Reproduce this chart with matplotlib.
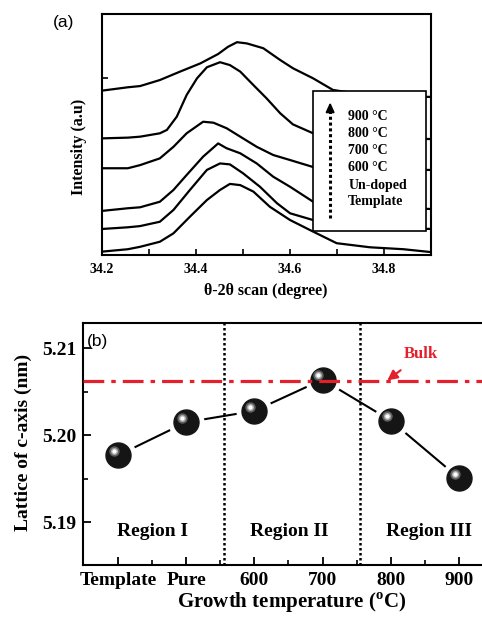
import matplotlib
matplotlib.use("Agg")
import matplotlib.pyplot as plt
import matplotlib.transforms as mtransforms
from matplotlib.patches import Rectangle

plt.rcParams["font.family"] = ["Liberation Serif", "DejaVu Serif"]
plt.rcParams["font.weight"] = "bold"
plt.rcParams["mathtext.fontset"] = "custom"
plt.rcParams["mathtext.rm"] = "Liberation Serif:bold"

# ---- panel (a): theta-2theta scans, stacked (intensity in a.u.) ----
SCAN_LABELS = ["900 °C", "800 °C", "700 °C", "600 °C", "Un-doped", "Template"]

X_900 = [34.200, 34.255, 34.281, 34.323, 34.366, 34.409, 34.447, 34.468, 34.487,
         34.508, 34.543, 34.579, 34.606, 34.649, 34.691, 34.740, 34.791, 34.900]
Y_900 = [68.2, 69.6, 70.1, 72.6, 76.1, 79.5, 83.4, 86.4, 88.3,
         87.8, 85.8, 80.9, 77.5, 73.3, 68.5, 67.0, 66.0, 65.6]

X_800 = [34.200, 34.255, 34.281, 34.323, 34.338, 34.359, 34.380, 34.402, 34.423, 34.451,
         34.472, 34.494, 34.522, 34.550, 34.579, 34.606, 34.649, 34.700, 34.749, 34.900]
Y_800 = [48.4, 48.7, 49.1, 50.5, 51.9, 57.4, 66.4, 73.3, 77.9, 80.0,
         78.8, 76.1, 70.5, 65.0, 58.8, 54.2, 50.5, 49.5, 49.0, 48.1]

X_700 = [34.200, 34.255, 34.281, 34.323, 34.352, 34.380, 34.415, 34.437,
         34.465, 34.494, 34.529, 34.564, 34.600, 34.649, 34.700, 34.900]
Y_700 = [36.0, 36.0, 37.3, 40.1, 44.9, 50.5, 55.3, 54.9,
         52.6, 49.1, 44.9, 41.5, 39.4, 36.5, 35.5, 35.3]

X_600 = [34.200, 34.255, 34.281, 34.323, 34.352, 34.380, 34.415, 34.447,
         34.465, 34.494, 34.529, 34.564, 34.600, 34.649, 34.700, 34.900]
Y_600 = [18.3, 19.4, 19.8, 22.1, 27.0, 33.2, 40.8, 46.3,
         44.3, 42.2, 38.0, 32.5, 28.3, 22.1, 20.0, 19.1]

X_UNDOPED = [34.200, 34.255, 34.281, 34.323, 34.352, 34.387, 34.423, 34.451,
             34.472, 34.500, 34.536, 34.572, 34.600, 34.649, 34.700, 34.900]
Y_UNDOPED = [10.8, 11.5, 12.0, 13.8, 18.7, 27.0, 35.3, 38.0,
             37.6, 33.9, 28.3, 21.5, 17.3, 14.5, 12.0, 10.8]

X_TEMPLATE = [34.200, 34.255, 34.281, 34.323, 34.352, 34.387, 34.423, 34.451, 34.472,
              34.494, 34.522, 34.557, 34.600, 34.649, 34.699, 34.770, 34.841, 34.900]
Y_TEMPLATE = [1.4, 2.4, 3.4, 5.5, 9.0, 15.9, 22.8, 27.0, 29.5,
              29.0, 26.3, 20.0, 14.5, 9.7, 4.9, 3.2, 2.4, 1.2]

SCANS = [(X_900, Y_900), (X_800, Y_800), (X_700, Y_700), (X_600, Y_600),
         (X_UNDOPED, Y_UNDOPED), (X_TEMPLATE, Y_TEMPLATE)]

# ---- panel (b): c-axis lattice constant ----
TEMP_POS = [400, 500, 600, 700, 800, 900]
TEMP_LABELS = ["Template", "Pure", "600", "700", "800", "900"]
LATTICE_C = [5.1977, 5.2015, 5.2028, 5.2064, 5.2017, 5.1951]
BULK_C = 5.2062
REGION_BOUNDS = [555, 755]
REGION_LABELS = ["Region I", "Region II", "Region III"]

RED = "#e3202b"

fig = plt.figure(figsize=(4.82, 6.2), dpi=100)

# ---------------- panel (a) ----------------
ax = fig.add_axes([0.2116, 0.5887, 0.683, 0.3887])
for xs, ys in SCANS:
    ax.plot(xs, ys, color="black", lw=1.6, solid_joinstyle="round", zorder=2)

ax.set_xlim(34.2, 34.9)
ax.set_ylim(0, 100)
ax.set_xticks([34.2, 34.4, 34.6, 34.8])
ax.set_xticks([34.3, 34.5, 34.7], minor=True)
ax.set_xticklabels(["34.2", "34.4", "34.6", "34.8"])
ax.set_yticks([73.4])
ax.set_yticklabels([])
ax.tick_params(axis="both", which="both", direction="in", length=4, width=1.2,
               labelsize=10, pad=6)
for sp in ax.spines.values():
    sp.set_linewidth(1.5)

ax.set_xlabel("θ-2θ scan (degree)", fontsize=11.5, fontweight="bold")
ax.xaxis.set_label_coords(0.498, -0.115)
ax.set_ylabel("Intensity (a.u)", fontsize=11.5, fontweight="bold")
ax.yaxis.set_label_coords(-0.045, 0.45)

# inner key box with dotted arrow
ax.add_patch(Rectangle((0.641, 0.0996), 0.344, 0.580, transform=ax.transAxes,
                       facecolor="white", edgecolor="black", lw=1.2, zorder=3))
ax.plot([0.693, 0.693], [0.154, 0.60], transform=ax.transAxes, color="black",
        lw=2.2, ls=(0, (1, 0.9)), zorder=4)
ax.annotate("", xy=(0.693, 0.645), xytext=(0.693, 0.595), xycoords="axes fraction",
            arrowprops=dict(arrowstyle="-|>,head_length=0.55,head_width=0.25",
                            color="black", lw=1.4), zorder=5)
key_y = [0.573, 0.506, 0.432, 0.365, 0.290, 0.220]
for label, yk in zip(SCAN_LABELS, key_y):
    ax.text(0.748, yk, label, transform=ax.transAxes, fontsize=10,
            fontweight="bold", va="center", ha="left", zorder=5)

fig.text(0.131, 0.9645, "(a)", fontsize=12.5, fontweight="normal",
         family="Liberation Sans", ha="center", va="center")

# ---------------- panel (b) ----------------
bx = fig.add_axes([0.1722, 0.0887, 1 - 0.1722, 0.3903])
bx.plot(TEMP_POS, LATTICE_C, color="black", lw=1.5, zorder=2)
bx.plot(TEMP_POS, LATTICE_C, ls="none", marker="o", ms=25, color="white", zorder=3)
bx.plot(TEMP_POS, LATTICE_C, ls="none", marker="o", ms=18, color="#151515", zorder=4)

shift = mtransforms.ScaledTranslation(-3.0 / 72, 3.0 / 72, fig.dpi_scale_trans)
for ms, col in [(7.5, "#606060"), (5, "#b0b0b0"), (3, "white")]:
    bx.plot(TEMP_POS, LATTICE_C, ls="none", marker="o", ms=ms, color=col,
            mec="none", transform=bx.transData + shift, zorder=5)

bx.axhline(BULK_C, color=RED, lw=2.3, ls=(0, (6.5, 2.2, 1.4, 2.2)), zorder=6)
for xb in REGION_BOUNDS:
    bx.axvline(xb, color="black", lw=1.8, ls=(0, (1, 1)), zorder=1)

bx.annotate("Bulk", xy=(795, 5.2063), xytext=(845, 5.2093), color=RED,
            fontsize=12, fontweight="bold", ha="center", va="center",
            arrowprops=dict(arrowstyle="-|>,head_length=0.5,head_width=0.25",
                            color=RED, lw=1.5, shrinkA=6, shrinkB=0), zorder=7)

for label, xr in zip(REGION_LABELS, [450, 651, 856]):
    bx.text(xr, 5.189, label, fontsize=14, fontweight="bold", ha="center", va="center")

bx.set_xlim(348.5, 934)
bx.set_ylim(5.1851, 5.2129)
bx.set_xticks(TEMP_POS)
bx.set_xticklabels(TEMP_LABELS)
bx.set_xticks([450, 550, 650, 750, 850], minor=True)
bx.set_yticks([5.19, 5.20, 5.21])
bx.set_yticklabels(["5.19", "5.20", "5.21"])
bx.set_yticks([5.195, 5.205], minor=True)
bx.tick_params(axis="both", which="major", direction="in", length=6, width=1.3,
               labelsize=14, pad=5)
bx.tick_params(axis="both", which="minor", direction="in", length=3.5, width=1.2)
bx.spines["right"].set_visible(False)
for sp in ["left", "top", "bottom"]:
    bx.spines[sp].set_linewidth(1.5)

bx.set_ylabel("Lattice of c-axis (nm)", fontsize=14, fontweight="bold")
bx.yaxis.set_label_coords(-0.128, 0.508)
bx.set_xlabel(r"Growth temperature ($^{\mathrm{o}}$C)", fontsize=15, fontweight="bold")
bx.xaxis.set_label_coords(0.524, -0.105)

fig.text(0.2015, 0.4484, "(b)", fontsize=12.5, fontweight="normal",
         family="Liberation Sans", ha="center", va="center")

fig.savefig("out.png", dpi=100)
